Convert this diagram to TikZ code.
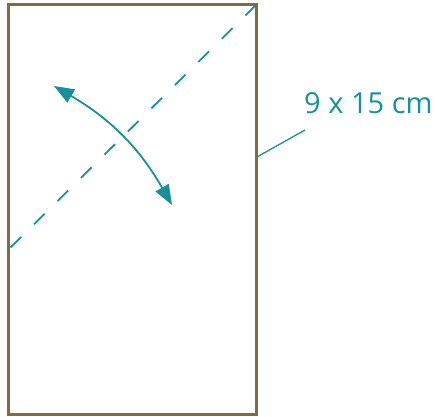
\documentclass[tikz,border=0pt]{standalone}
\usepackage{fontspec}
\setmainfont{Open Sans}
\usetikzlibrary{arrows.meta,positioning}
\definecolor{cardBrown}{RGB}{128,107,67}
\definecolor{foldTeal}{RGB}{22,144,156}

\begin{document}
\begin{tikzpicture}[
    x=1pt,y=-1pt,
    card/.style={draw=cardBrown,line width=3pt,minimum width=248pt,minimum height=409pt,inner sep=0pt,outer sep=0pt},
    fold/.style={draw=foldTeal,line width=1.8pt,dash pattern=on 15pt off 18pt},
    turn/.style={{Triangle[length=20pt,width=15pt]}-{Triangle[length=20pt,width=15pt]},draw=foldTeal,line width=1.8pt},
    leader/.style={draw=foldTeal,line width=1.3pt},
    sizelabel/.style={text=foldTeal,font=\fontsize{29}{32}\selectfont,inner sep=0pt,anchor=base west}
  ]
    \useasboundingbox (0,0) rectangle (437,417);
    \node[card] (card) at (132,209.5) {};
    \coordinate (foldend) at (10,248);
    \coordinate (turnA) at (54,86);
    \coordinate (turnB) at (172,205);
    \coordinate (tick) at (257,157);
    \node[sizelabel] (size) at (304,114) {9 x 15 cm};
    \draw[fold] (card.north east) -- (foldend);
    \draw[turn] (turnA) to[bend left=15] (turnB);
    \draw[leader] (tick) -- ([xshift=1pt,yshift=-16pt]size.base west);
  \end{tikzpicture}
\end{document}
